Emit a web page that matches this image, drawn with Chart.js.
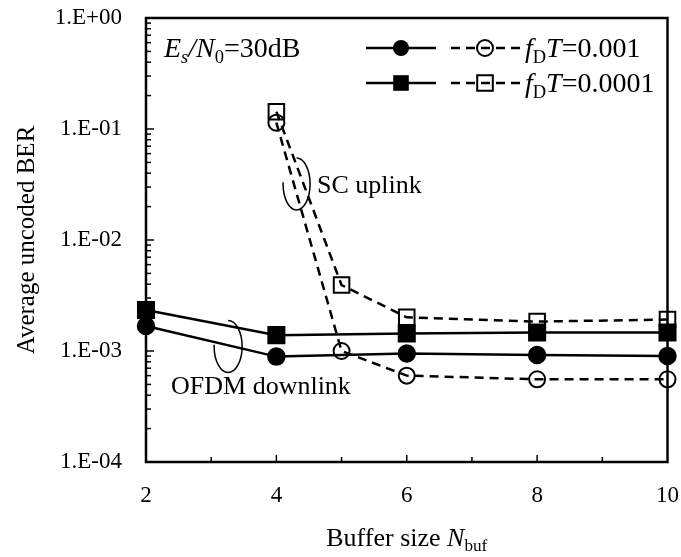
<!DOCTYPE html>
<html>
<head>
<meta charset="utf-8">
<script src="https://cdn.jsdelivr.net/npm/chart.js@4.4.1/dist/chart.umd.min.js"></script>
<style>
html, body { margin: 0; padding: 0; background: #fff; }
</style>
</head>
<body>
<canvas id="ber_chart" width="681" height="557"></canvas>
<script>
// buffer sizes (x values)
const ofdmBufSizes = [2, 4, 6, 8, 10];
const scBufSizes = [4, 5, 6, 8, 10];

// average uncoded BER
const ofdmBer001 = [1.68e-3, 0.89e-3, 0.95e-3, 0.92e-3, 0.90e-3];
const ofdmBer0001 = [2.34e-3, 1.39e-3, 1.44e-3, 1.47e-3, 1.47e-3];
const scBer001 = [1.14e-1, 1.0e-3, 0.60e-3, 0.556e-3, 0.556e-3];
const scBer0001 = [1.43e-1, 3.93e-3, 2.01e-3, 1.84e-3, 1.92e-3];

const xTickValues = [2, 4, 6, 8, 10];
const yTickValues = [1e-4, 1e-3, 1e-2, 1e-1, 1];

const serif = "'Liberation Serif', 'Times New Roman', serif";

function toPoints(xs, ys) {
    return xs.map((x, i) => ({ x: x, y: ys[i] }));
}

function fmtExp(v) {
    const e = Math.round(Math.log10(v));
    const s = String(Math.abs(e)).padStart(2, '0');
    return '1.E' + (e >= 0 ? '+' : '-') + s;
}

// draw text made of runs: {t, it, sub}
function runsWidth(ctx, runs, size) {
    let w = 0;
    runs.forEach(r => {
        const fs = r.sub ? size * 0.66 : size;
        ctx.font = (r.it ? 'italic ' : '') + fs + 'px ' + serif;
        w += ctx.measureText(r.t).width;
    });
    return w;
}

function drawRuns(ctx, x, yMid, runs, size) {
    const base = yMid + size * 0.33;
    ctx.fillStyle = '#000';
    ctx.textAlign = 'left';
    ctx.textBaseline = 'alphabetic';
    runs.forEach(r => {
        const fs = r.sub ? size * 0.66 : size;
        ctx.font = (r.it ? 'italic ' : '') + fs + 'px ' + serif;
        ctx.fillText(r.t, x, r.sub ? base + size * 0.2 : base);
        x += ctx.measureText(r.t).width;
    });
}

function drawMarker(ctx, style, filled, x, y) {
    ctx.save();
    ctx.lineWidth = 2;
    ctx.strokeStyle = '#000';
    ctx.fillStyle = '#000';
    ctx.setLineDash([]);
    ctx.beginPath();
    if (style === 'circle') {
        ctx.arc(x, y, 8, 0, Math.PI * 2);
    } else {
        ctx.rect(x - 7.8, y - 7.8, 15.6, 15.6);
    }
    if (filled) ctx.fill(); else ctx.stroke();
    ctx.restore();
}

const berPlugin = {
    id: 'berPlugin',
    beforeDatasetsDraw(chart) {
        const ctx = chart.ctx;
        const a = chart.chartArea;
        const xs = chart.scales.x;
        const ys = chart.scales.y;
        ctx.save();
        ctx.strokeStyle = '#000';
        ctx.lineWidth = 2.5;
        ctx.strokeRect(a.left, a.top, a.right - a.left, a.bottom - a.top);

        // inward ticks on the left axis
        ctx.lineWidth = 1.5;
        for (let d = -4; d < 0; d++) {
            for (let m = 1; m <= 9; m++) {
                const py = ys.getPixelForValue(m * Math.pow(10, d));
                const len = m === 1 ? 8 : 5;
                ctx.beginPath();
                ctx.moveTo(a.left, py);
                ctx.lineTo(a.left + len, py);
                ctx.stroke();
            }
        }
        // inward ticks on the bottom axis
        for (let v = 3; v <= 9; v++) {
            const px = xs.getPixelForValue(v);
            const len = v % 2 === 0 ? 7 : 5;
            ctx.beginPath();
            ctx.moveTo(px, a.bottom);
            ctx.lineTo(px, a.bottom - len);
            ctx.stroke();
        }
        ctx.restore();
    },
    afterDraw(chart) {
        const ctx = chart.ctx;
        const a = chart.chartArea;
        const xs = chart.scales.x;
        const ys = chart.scales.y;
        ctx.save();

        // x axis title
        const xTitle = [
            { t: 'Buffer size ' },
            { t: 'N', it: true },
            { t: 'buf', sub: true }
        ];
        const w = runsWidth(ctx, xTitle, 26);
        drawRuns(ctx, (a.left + a.right) / 2 - w / 2, 537, xTitle, 26);

        // condition label
        drawRuns(ctx, 164, 48, [
            { t: 'E', it: true },
            { t: 's', it: true, sub: true },
            { t: '/', it: true },
            { t: 'N', it: true },
            { t: '0', sub: true },
            { t: '=30dB' }
        ], 28);

        // legend
        const rows = [
            { y: 48, style: 'circle', label: '0.001' },
            { y: 83, style: 'rect', label: '0.0001' }
        ];
        rows.forEach(r => {
            ctx.strokeStyle = '#000';
            ctx.lineWidth = 2.5;
            ctx.setLineDash([]);
            ctx.beginPath();
            ctx.moveTo(366, r.y);
            ctx.lineTo(436, r.y);
            ctx.stroke();
            drawMarker(ctx, r.style, true, 401, r.y);
            ctx.setLineDash([9, 6]);
            ctx.beginPath();
            ctx.moveTo(451, r.y);
            ctx.lineTo(520, r.y);
            ctx.stroke();
            ctx.setLineDash([]);
            drawMarker(ctx, r.style, false, 485, r.y);
            drawRuns(ctx, 525, r.y, [
                { t: 'f', it: true },
                { t: 'D', sub: true },
                { t: 'T', it: true },
                { t: '=' + r.label }
            ], 28);
        });

        // annotation ellipses
        ctx.strokeStyle = '#000';
        ctx.lineWidth = 1.5;
        ctx.setLineDash([]);
        ctx.beginPath();
        ctx.ellipse(xs.getPixelForValue(4.31), ys.getPixelForValue(0.032), 13.5, 26, 0, -Math.PI / 2, Math.PI * 1.02);
        ctx.stroke();
        ctx.beginPath();
        ctx.ellipse(xs.getPixelForValue(3.26), ys.getPixelForValue(1.1e-3), 14, 26, 0, -Math.PI / 2, Math.PI * 1.02);
        ctx.stroke();

        drawRuns(ctx, 317, ys.getPixelForValue(0.032), [{ t: 'SC uplink' }], 26);
        drawRuns(ctx, 171, 385, [{ t: 'OFDM downlink' }], 26);

        ctx.restore();
    }
};

const ctx = document.getElementById('ber_chart');

const berChart = new Chart(ctx, {
    type: 'line',
    data: {
        datasets: [
            {
                label: 'OFDM fDT=0.001',
                data: toPoints(ofdmBufSizes, ofdmBer001),
                borderColor: '#000',
                borderWidth: 2.5,
                pointStyle: 'circle',
                pointRadius: 8,
                pointBackgroundColor: '#000',
                pointBorderColor: '#000',
                order: 1,
                clip: false
            },
            {
                label: 'OFDM fDT=0.0001',
                data: toPoints(ofdmBufSizes, ofdmBer0001),
                borderColor: '#000',
                borderWidth: 2.5,
                pointStyle: 'rect',
                pointRadius: 11,
                pointBackgroundColor: '#000',
                pointBorderColor: '#000',
                order: 1,
                clip: false
            },
            {
                label: 'SC fDT=0.001',
                data: toPoints(scBufSizes, scBer001),
                borderColor: '#000',
                borderWidth: 2.5,
                borderDash: [9, 6],
                pointStyle: 'circle',
                pointRadius: 8,
                pointBorderWidth: 2,
                pointBackgroundColor: 'rgba(0,0,0,0)',
                pointBorderColor: '#000',
                order: 2,
                clip: false
            },
            {
                label: 'SC fDT=0.0001',
                data: toPoints(scBufSizes, scBer0001),
                borderColor: '#000',
                borderWidth: 2.5,
                borderDash: [9, 6],
                pointStyle: 'rect',
                pointRadius: 11,
                pointBorderWidth: 2,
                pointBackgroundColor: 'rgba(0,0,0,0)',
                pointBorderColor: '#000',
                order: 2,
                clip: false
            }
        ]
    },
    options: {
        responsive: false,
        animation: false,
        layout: { padding: { top: 18, right: 13, left: 0, bottom: 0 } },
        plugins: {
            legend: { display: false },
            tooltip: { enabled: false }
        },
        elements: { line: { tension: 0 } },
        scales: {
            x: {
                type: 'linear',
                min: 2,
                max: 10,
                grid: { display: false, drawTicks: false },
                border: { display: false },
                afterBuildTicks: scale => { scale.ticks = xTickValues.map(v => ({ value: v })); },
                afterFit: scale => {
                    scale.height = 95;
                    scale.paddingLeft = 0;
                    scale.paddingRight = 0;
                },
                ticks: {
                    color: '#000',
                    padding: 20,
                    maxRotation: 0,
                    font: { family: serif, size: 23 }
                }
            },
            y: {
                type: 'logarithmic',
                min: 1e-4,
                max: 1,
                grid: { display: false, drawTicks: false },
                border: { display: false },
                afterBuildTicks: scale => { scale.ticks = yTickValues.map(v => ({ value: v })); },
                afterFit: scale => {
                    scale.width = 146;
                    scale.paddingTop = 0;
                    scale.paddingBottom = 0;
                },
                ticks: {
                    color: '#000',
                    padding: 24,
                    font: { family: serif, size: 23 },
                    callback: v => fmtExp(v)
                },
                title: {
                    display: true,
                    text: 'Average uncoded BER',
                    color: '#000',
                    padding: { top: 12, bottom: 0 },
                    font: { family: serif, size: 25 }
                }
            }
        }
    },
    plugins: [berPlugin]
});
</script>
</body>
</html>
